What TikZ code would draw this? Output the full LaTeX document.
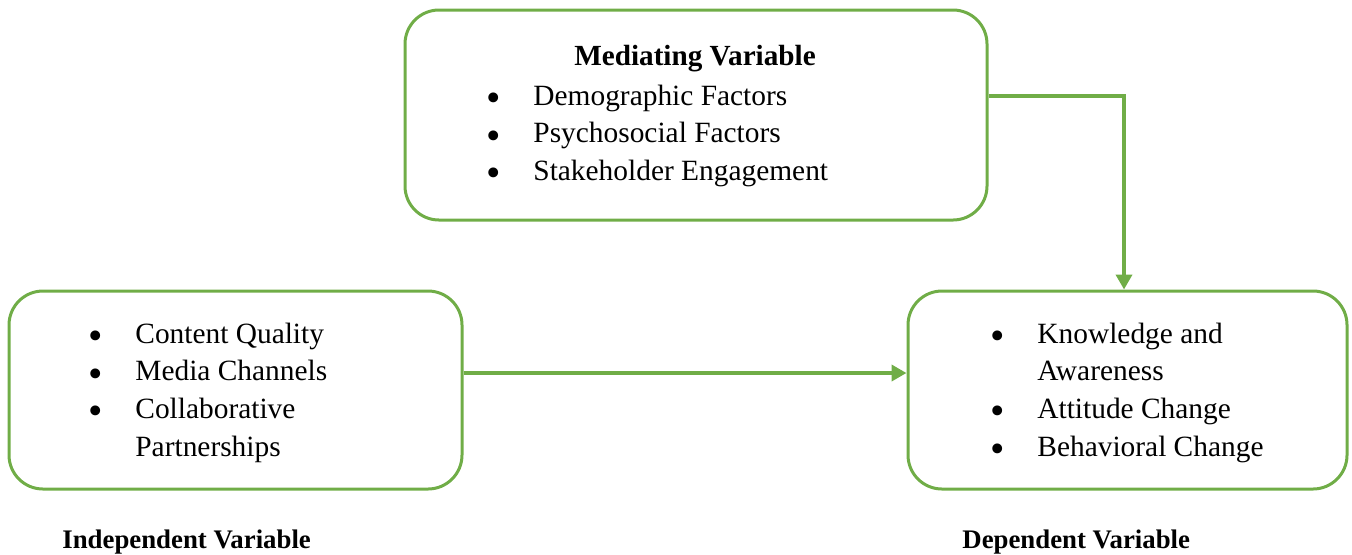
\documentclass[tikz,border=0pt]{standalone}
\usepackage{fontspec}
\usepackage{graphicx}
\setmainfont{Liberation Serif}
\usetikzlibrary{arrows.meta}

\definecolor{leaf}{HTML}{70AD47}

% bullet with its own gap before the item text
\newcommand{\itm}{\makebox[40pt]{\raisebox{-3.2pt}{\scalebox{1.4}{\textbullet}}}}

\tikzset{
    varbox/.style={draw=leaf, line width=1.5pt, rounded corners=17pt},
    itemlist/.style={inner sep=0pt, font=\fontsize{14.7pt}{18.85pt}\selectfont},
    boxtitle/.style={inner sep=0pt, font=\fontsize{14.6pt}{18pt}\selectfont\bfseries},
    varname/.style={inner sep=0pt, font=\fontsize{13.4pt}{16pt}\selectfont\bfseries},
    link/.style={draw=leaf, line width=2pt, -{Triangle[length=7.5pt,width=8pt]}}
}

\begin{document}
\begin{tikzpicture}[x=0.5pt,y=-0.5pt]
    \useasboundingbox (0,0) rectangle (1352,554);

    % boxes
    \node[varbox, minimum width=291pt, minimum height=105pt] (med) at (696,115) {};
    \node[varbox, minimum width=226.5pt, minimum height=99pt] (indep) at (235.5,390) {};
    \node[varbox, minimum width=219.5pt, minimum height=99pt] (dep) at (1127.5,390) {};

    % mediating variable
    \node[boxtitle, anchor=base] (medtitle) at (695,65) {Mediating Variable};
    \node[itemlist, anchor=base west] (medlist) at (453,105) {%
        \begin{tabular}[t]{@{}l@{}l@{}}
        \itm & Demographic Factors \\
        \itm & Psychosocial Factors \\
        \itm & Stakeholder Engagement
        \end{tabular}};

    % independent variable
    \node[itemlist, anchor=base west] (indeplist) at (55,343) {%
        \begin{tabular}[t]{@{}l@{}l@{}}
        \itm & Content Quality \\
        \itm & Media Channels \\
        \itm & Collaborative \\
             & Partnerships
        \end{tabular}};

    % dependent variable
    \node[itemlist, anchor=base west] (deplist) at (957,343) {%
        \begin{tabular}[t]{@{}l@{}l@{}}
        \itm & Knowledge and \\
             & Awareness \\
        \itm & Attitude Change \\
        \itm & Behavioral Change
        \end{tabular}};

    % labels under the boxes
    \node[varname, anchor=base west] (indepname) at (62,548) {Independent Variable};
    \node[varname, anchor=base west] (depname) at (962,548) {Dependent Variable};

    % arrows
    \draw[link] ([yshift=8.5pt]indep.east) -- ([yshift=8.5pt]dep.west);
    \draw[link] ([yshift=9.5pt]med.east) -| ([xshift=-1.75pt]dep.north);
\end{tikzpicture}
\end{document}
